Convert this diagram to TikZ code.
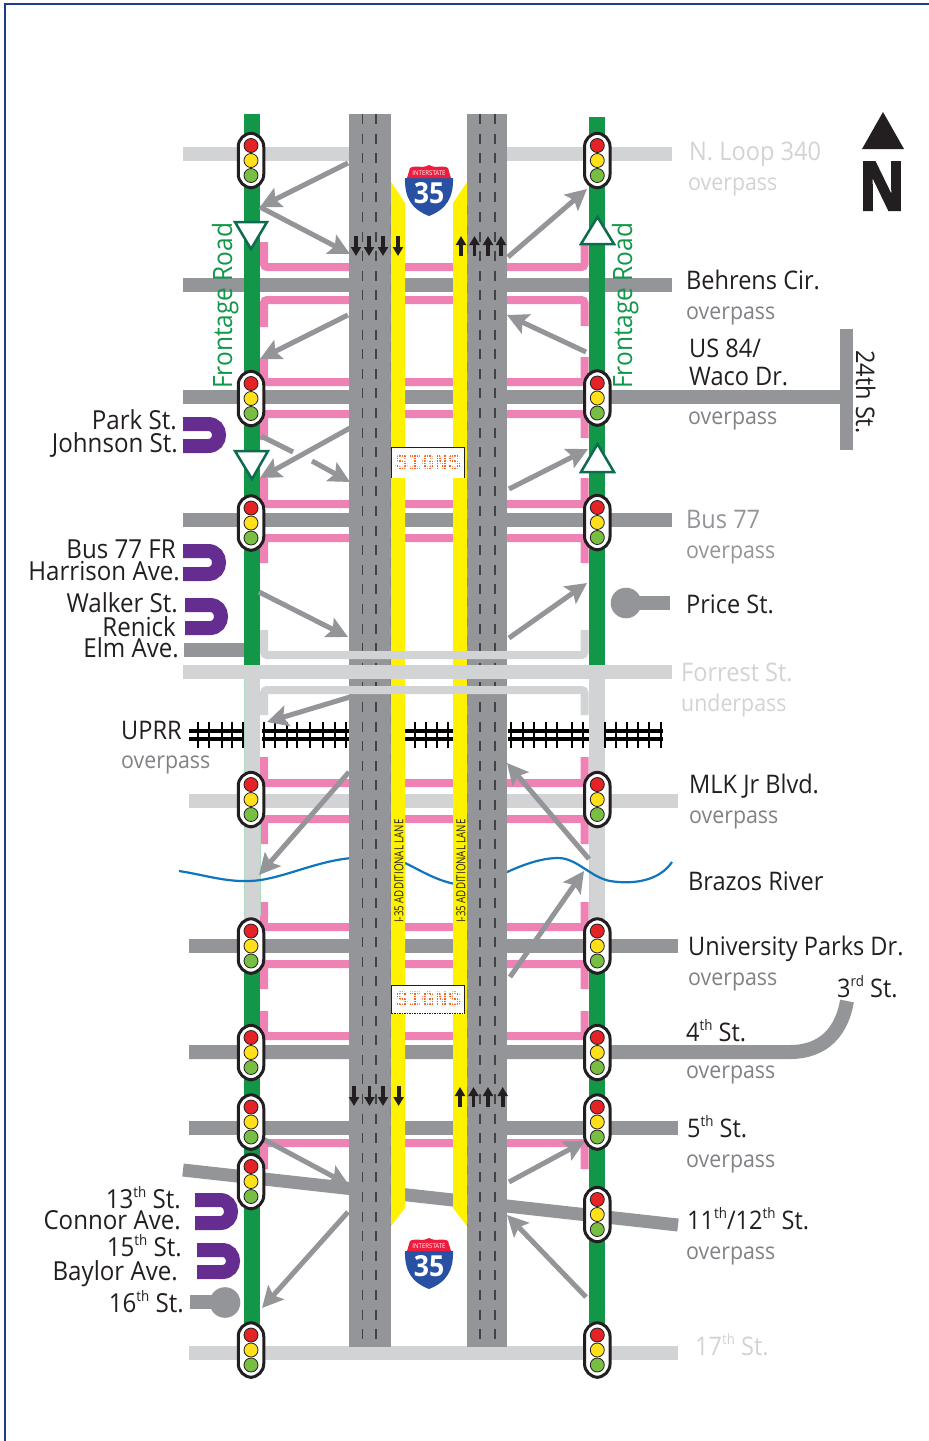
\documentclass[tikz,border=0pt]{standalone}
\usepackage{fontspec}
\usetikzlibrary{arrows.meta}
\setmainfont[FakeStretch=0.92]{Open Sans}
\newfontfamily\lanefont[FakeStretch=0.78]{Open Sans}
\newfontfamily\nfont[FakeStretch=0.84,FakeBold=3]{Open Sans}
\newfontfamily\signfont{Liberation Mono}
\definecolor{roadgray}{HTML}{939598}
\definecolor{lightroad}{HTML}{D1D3D4}
\definecolor{pinklane}{HTML}{EF82B5}
\definecolor{frontgreen}{HTML}{129749}
\definecolor{yellowlane}{HTML}{FFF200}
\definecolor{uturn}{HTML}{662D91}
\definecolor{river}{HTML}{0F75BC}
\definecolor{inkblack}{HTML}{231F20}
\definecolor{navyline}{HTML}{1B3F85}
\definecolor{trigreen}{HTML}{0F6B4F}
\definecolor{subgray}{HTML}{808285}
\definecolor{lblue}{HTML}{2951A3}
\definecolor{lred}{HTML}{EE1C3D}
\definecolor{sigred}{HTML}{E32326}
\definecolor{sigyel}{HTML}{FFE01A}
\definecolor{siggrn}{HTML}{78BE43}
\definecolor{signorange}{HTML}{F26522}
\tikzset{
  x=1pt,y=-1pt,
  road/.style={line width=14pt,roadgray},
  lroad/.style={line width=14pt,lightroad},
  pinkramp/.style={line width=8pt,pinklane,rounded corners=3pt},
  lightramp/.style={line width=8pt,lightroad,rounded corners=3pt},
  frontage/.style={line width=16.4pt,frontgreen},
  frontlight/.style={line width=16.4pt,lightroad},
  frontedge/.style={line width=.5pt,frontgreen!35},
  railline/.style={line width=3.6pt,black},
  tie/.style={line width=2.8pt,black},
  ramparrow/.style={line width=5pt,roadgray,-{Stealth[length=21pt,width=21pt,inset=4pt]}},
  rampplain/.style={line width=5pt,roadgray},
  lanedash/.style={line width=1.2pt,inkblack!85,dash pattern=on 10pt off 9.6pt},
  lanearrow/.style={line width=3.8pt,inkblack,-{Triangle[length=9pt,width=10pt]}},
  yield/.style={draw=trigreen,line width=2.5pt,fill=white,line join=miter},
  utpath/.style={line width=14pt,uturn},
  sigbody/.style={draw=inkblack,line width=3pt,fill=white,rectangle,rounded corners=13.5pt,minimum width=25.5pt,minimum height=54.5pt,inner sep=0pt},
  lamp/.style={draw=inkblack,line width=.8pt,circle,minimum size=14pt,inner sep=0pt},
  signbox/.style={draw=inkblack,line width=1.3pt,fill=white,rectangle,minimum width=73pt,inner sep=0pt},
  labl/.style={anchor=base west,inner sep=0pt,text=inkblack,font=\fontsize{25.6}{25.6}\selectfont},
  labr/.style={anchor=base east,inner sep=0pt,text=inkblack,font=\fontsize{26.2}{26.2}\selectfont},
  subl/.style={anchor=base west,inner sep=0pt,text=subgray,font=\fontsize{23.2}{23.2}\selectfont},
  front/.style={anchor=base west,inner sep=0pt,rotate=90,text=frontgreen,font=\fontsize{26.6}{26.6}\selectfont},
  addlane/.style={inner sep=0pt,rotate=90,text=inkblack,font=\lanefont\fontsize{12.5}{12.5}\selectfont},
}
\newcommand{\rampa}[3]{\coordinate (#1s) at (#2); \coordinate (#1e) at (#3); \draw[ramparrow] (#1s) -- (#1e);}
\newcommand{\sigl}[3]{%
  \node[sigbody] (#1) at (#2,#3) {};
  \node[lamp,fill=sigred] (#1r) at ([yshift=15pt]#1.center) {};
  \node[lamp,fill=sigyel] (#1y) at (#1.center) {};
  \node[lamp,fill=siggrn] (#1g) at ([yshift=-15pt]#1.center) {};}
\newcommand{\uturnshape}[4]{%
  \draw[utpath] (#1,#3) -- (#2,#3) .. controls ({#2+14.67},#3) and ({#2+14.67},#4) .. (#2,#4) -- (#1,#4);}
\newcommand{\shieldat}[3]{%
  \begin{scope}[shift={(#1,#2)}]
    \fill[lblue] (0,13) -- (48,13) .. controls (48.5,32) and (42,44) .. (24,51) .. controls (6,44) and (-.5,32) .. (0,13) -- cycle;
    \fill[lred] (2,13) -- (5,3) .. controls (8,1) and (11,2) .. (13,1.5) .. controls (16,2.5) and (20,2) .. (24,0) .. controls (28,2) and (32,2.5) .. (35,1.5) .. controls (37,2) and (40,1) .. (43,3) -- (46,13) -- cycle;
    \node[inner sep=0pt,text=white,font=\fontsize{6.6}{6.6}\selectfont] (#3a) at (24,8) {INTERSTATE};
    \node[inner sep=0pt,text=white,font=\fontsize{29}{29}\selectfont\bfseries] (#3b) at (24,28.5) {35};
  \end{scope}}
\newcommand{\signsat}[3]{%
  \node[signbox,minimum height=#3pt,anchor=north west,text=signorange,font=\signfont\bfseries\fontsize{22}{22}\selectfont] (#1) at (391,#2) {SIGNS};
  \begin{scope}
    \clip ([xshift=1pt,yshift=-1pt]#1.north west) rectangle ([xshift=-1pt,yshift=1pt]#1.south east);
    \foreach \gi in {0,...,29} {\draw[white,line width=.5pt] (391+2.5*\gi,#2) -- (391+2.5*\gi,#2+40);}
    \foreach \gj in {0,...,12} {\draw[white,line width=.5pt] (391,#2+2.5*\gj) -- (464,#2+2.5*\gj);}
  \end{scope}}
\newcommand{\thup}[1]{\raisebox{.42em}{\fontsize{14.5}{14.5}\selectfont #1}}
\begin{document}
\begin{tikzpicture}
\useasboundingbox (0,0) rectangle (929,1441);
\fill[white] (0,0) rectangle (929,1441);
\draw[navyline,line width=2.6pt] (5,1441) -- (5,4) -- (929,4);

% cross roads
\draw[lroad] (183,154) -- (349,154);
\draw[lroad] (507,154) -- (672,154);
\draw[road] (183,285) -- (672,285);
\draw[road] (183,397) -- (840,397);
\draw[road,line width=13pt] (846,329) -- (846,450);
\draw[road] (183,520) -- (672,520);
\draw[road] (184,650) -- (244,650);
\draw[lroad] (189,801) -- (678,801);
\draw[road] (189,946) -- (678,946);
\draw[road] (189,1052) -- (790,1052) .. controls (825,1052) and (842,1030) .. (847,1001);
\draw[road] (189,1128) -- (678,1128);
\draw[road,line width=13pt] (183,1170) -- (678,1225);
\draw[lroad] (189,1353) -- (678,1353);

% pink frontage ramps
\draw[pinkramp] (264,242) -- (264,267) -- (584.5,267) -- (584.5,245);
\draw[pinkramp] (264,327) -- (264,300) -- (584.5,300) -- (584.5,326);
\draw[pinkramp] (264,358) -- (264,382) -- (584.5,382) -- (584.5,357);
\draw[pinkramp] (264,440) -- (264,414) -- (584.5,414) -- (584.5,438);
\draw[pinkramp] (264,478) -- (264,504) -- (584.5,504) -- (584.5,478);
\draw[pinkramp] (264,563) -- (264,538) -- (584.5,538) -- (584.5,563);
\draw[pinkramp] (264,757) -- (264,783) -- (584.5,783) -- (584.5,757);
\draw[pinkramp] (264,844) -- (264,819) -- (584.5,819) -- (584.5,844);
\draw[pinkramp] (264,902) -- (264,927) -- (584.5,927) -- (584.5,902);
\draw[pinkramp] (264,989) -- (264,964) -- (584.5,964) -- (584.5,989);
\draw[pinkramp] (264,1011) -- (264,1036) -- (584.5,1036) -- (584.5,1011);
\draw[pinkramp] (264,1169) -- (264,1143) -- (584.5,1143) -- (584.5,1169);

% frontage roads
\draw[frontage] (252,114) -- (252,666);
\draw[frontage] (597,117) -- (597,666);
\draw[frontlight] (252,666) -- (252,930);
\draw[frontlight] (597,666) -- (597,930);
\draw[frontedge] (243.8,680) -- (243.8,916);
\draw[frontedge] (260.2,800) -- (260.2,916);
\draw[frontedge] (588.8,860) -- (588.8,916);
\draw[frontage] (252,930) -- (252,1350);
\draw[frontage] (597,930) -- (597,1350);

% railway
\foreach \ra/\rb in {189/244,262/349,405/453,508/589,605/663}{
  \draw[railline] (\ra,731) -- (\rb,731);
  \draw[railline] (\ra,739) -- (\rb,739);
}
\foreach \tx in {198,209,222,232,243,264,275,287,297,310,323,335,346,415,426,437,448,511,523,534,546,557,572,583,605,616,627,638,649,661}{
  \draw[tie] (\tx,722) -- (\tx,748);
}

% river
\draw[river,line width=2.2pt] (179,871) .. controls (205,875) and (225,882) .. (250,881)
  .. controls (280,880) and (315,861) .. (352,858);
\draw[river,line width=2.2pt] (403,862) .. controls (420,870) and (435,880) .. (455,884);
\draw[river,line width=2.2pt] (505,873) .. controls (520,866) and (540,858) .. (558,858)
  .. controls (577,858) and (590,877) .. (610,881) .. controls (635,885) and (660,880) .. (672,862);

% Interstate carriageways
\fill[roadgray] (349,114) rectangle (391,1347);
\fill[roadgray] (467,114) rectangle (507,1347);
\fill[yellowlane] (391,182) -- (405,203) -- (405,1208) -- (391,1226) -- cycle;
\fill[yellowlane] (467,182) -- (453,203) -- (453,1208) -- (467,1226) -- cycle;
\foreach \dx in {362.7,376,480,495}{\draw[lanedash] (\dx,114) -- (\dx,1347);}
\draw[lanedash,inkblack!55] (390.7,205) -- (390.7,1226);
\draw[lanedash,inkblack!55] (467.3,205) -- (467.3,1226);

% lane arrows
\foreach \lx in {356,369,383,398}{\draw[lanearrow] (\lx,236) -- (\lx,256);}
\foreach \lx in {461,474.5,488,501}{\draw[lanearrow] (\lx,256) -- (\lx,236);}
\foreach \lx in {354,369.5,383,398.6}{\draw[lanearrow] (\lx,1086) -- (\lx,1106);}
\foreach \lx in {460,473.5,488,502.7}{\draw[lanearrow] (\lx,1107) -- (\lx,1087);}

% Forrest St. and light ramps
\draw[lroad] (183,672) -- (672,672);
\draw[lightramp] (264,630) -- (264,655) -- (584.5,655) -- (584.5,630);
\draw[lightramp] (264,715) -- (264,690) -- (584.5,690) -- (584.5,715);

% Ramp flow arrows
\rampa{ab}{348,163}{260,207}
\rampa{ac}{260,207}{350,254}
\rampa{ad}{348,315}{260,359}
\coordinate (afs) at (261,436); \coordinate (afe) at (293,452);
\draw[rampplain] (afs) -- (afe);
\rampa{ag}{312,461}{350,482}
\rampa{ah}{350,428}{260,478}
\rampa{ai}{259,592}{348,637}
\rampa{aj}{350,697}{267,722}
\rampa{ak}{349,772}{259,875}
\rampa{al}{263,1139}{349,1185}
\rampa{am}{348,1212}{262,1308}
\rampa{ba}{508,257}{587,189}
\rampa{bb}{586,352}{507,315}
\rampa{bc}{509,489}{588,449}
\rampa{bd}{509,638}{587,583}
\rampa{be}{589,859}{507,763}
\rampa{bf}{510,977}{584,871}
\rampa{bg}{509,1182}{585,1141}
\rampa{bh}{586,1297}{507,1215}

% yield triangles
\draw[yield] (235,222) -- (267,222) -- (251,249) -- cycle;
\draw[yield] (235,451) -- (268,451) -- (252,479) -- cycle;
\draw[yield] (581,244) -- (614,244) -- (597.5,217) -- cycle;
\draw[yield] (581,472) -- (614,472) -- (597.5,444) -- cycle;

% U-turns
\uturnshape{183}{208}{424}{446}
\uturnshape{183}{208}{551}{574}
\uturnshape{185}{210}{605}{628}
\uturnshape{195}{220}{1200}{1223}
\uturnshape{197}{222}{1250}{1272}

% dead ends
\draw[road] (625,603) -- (670,603);
\fill[roadgray] (626,603) circle[radius=15.3];
\draw[road] (190,1302) -- (225,1302);
\fill[roadgray] (225,1302.5) circle[radius=15.3];

% Traffic signals
\sigl{sa}{251}{160.5}
\sigl{sb}{251}{398.5}
\sigl{sc}{251}{523}
\sigl{sd}{251}{799.5}
\sigl{se}{251}{946}
\sigl{sf}{251}{1052.5}
\sigl{sg}{251}{1122}
\sigl{sh}{251}{1181.5}
\sigl{si}{251}{1350}
\sigl{ta}{597.3}{160.5}
\sigl{tb}{597.3}{398}
\sigl{tc}{597.3}{522.5}
\sigl{td}{597.3}{799.5}
\sigl{te}{597.3}{946}
\sigl{tf}{597.3}{1052.5}
\sigl{tg}{597.3}{1122}
\sigl{th}{597.3}{1214.5}
\sigl{ti}{597.3}{1350}

% Shields and signs
\shieldat{405}{165}{shu}
\shieldat{405}{1238}{shl}
\signsat{sgu}{447}{30}
\signsat{sgl}{985}{28}
\node[addlane] (lna) at (399,871) {I-35 ADDITIONAL LANE};
\node[addlane] (lnb) at (461,871) {I-35 ADDITIONAL LANE};

% North arrow
\fill[inkblack] (862,149) -- (904,149) -- (883,112) -- cycle;
\node[inner sep=0pt,anchor=base,text=inkblack,font=\nfont\bfseries\fontsize{67}{67}\selectfont] (north) at (882,210) {N};

% Frontage labels
\node[front] (fra) at (232,389) {Frontage Road};
\node[front] (frb) at (632,389) {Frontage Road};

% Right labels
\node[labl,text=lightroad] (t1) at (689,160) {N. Loop 340};
\node[subl,text=lightroad] (t2) at (688,190) {overpass};
\node[labl] (t3) at (686,289) {Behrens Cir.};
\node[subl] (t4) at (686,319) {overpass};
\node[labl] (t5) at (689,357) {US 84/};
\node[labl] (t6) at (689,385) {Waco Dr.};
\node[subl] (t7) at (688,424) {overpass};
\node[labl,rotate=-90] (t8) at (856,350) {24th St.};
\node[labl,text=roadgray] (t9) at (686,528) {Bus 77};
\node[subl,text=roadgray] (t10) at (686,558) {overpass};
\node[labl] (t11) at (686,613) {Price St.};
\node[labl,text=lightroad] (t12) at (681,681) {Forrest St.};
\node[subl,text=lightroad] (t13) at (681,711) {underpass};
\node[labl] (t14) at (689,793) {MLK Jr Blvd.};
\node[subl] (t15) at (689,823) {overpass};
\node[labl] (t16) at (688,890) {Brazos River};
\node[labl] (t17) at (688,955) {University Parks Dr.};
\node[subl] (t18) at (688,985) {overpass};
\node[labl] (t19) at (837,997) {3\thup{rd} St.};
\node[labl] (t20) at (686,1041) {4\thup{th} St.};
\node[subl] (t21) at (686,1078) {overpass};
\node[labl] (t22) at (687,1137) {5\thup{th} St.};
\node[subl] (t23) at (686,1167) {overpass};
\node[labl] (t24) at (687,1229) {11\thup{th}/12\thup{th} St.};
\node[subl] (t25) at (686,1259) {overpass};
\node[labl,text=lightroad] (t26) at (695,1355) {17\thup{th} St.};

% Left labels
\node[labr] (u1) at (177,429) {Park St.};
\node[labr] (u2) at (178,452) {Johnson St.};
\node[labr] (u3) at (176,558) {Bus 77 FR};
\node[labr] (u4) at (180,580) {Harrison Ave.};
\node[labr] (u5) at (178,612) {Walker St.};
\node[labr] (u6) at (176,636) {Renick};
\node[labr] (u7) at (179,657) {Elm Ave.};
\node[labl] (u8) at (121,739) {UPRR};
\node[subl] (u9) at (121,768) {overpass};
\node[labr] (u10) at (181,1208) {13\thup{th} St.};
\node[labr] (u11) at (181,1229) {Connor Ave.};
\node[labr] (u12) at (182,1256) {15\thup{th} St.};
\node[labr] (u13) at (178,1280) {Baylor Ave.};
\node[labr] (u14) at (184,1312) {16\thup{th} St.};
\end{tikzpicture}
\end{document}
